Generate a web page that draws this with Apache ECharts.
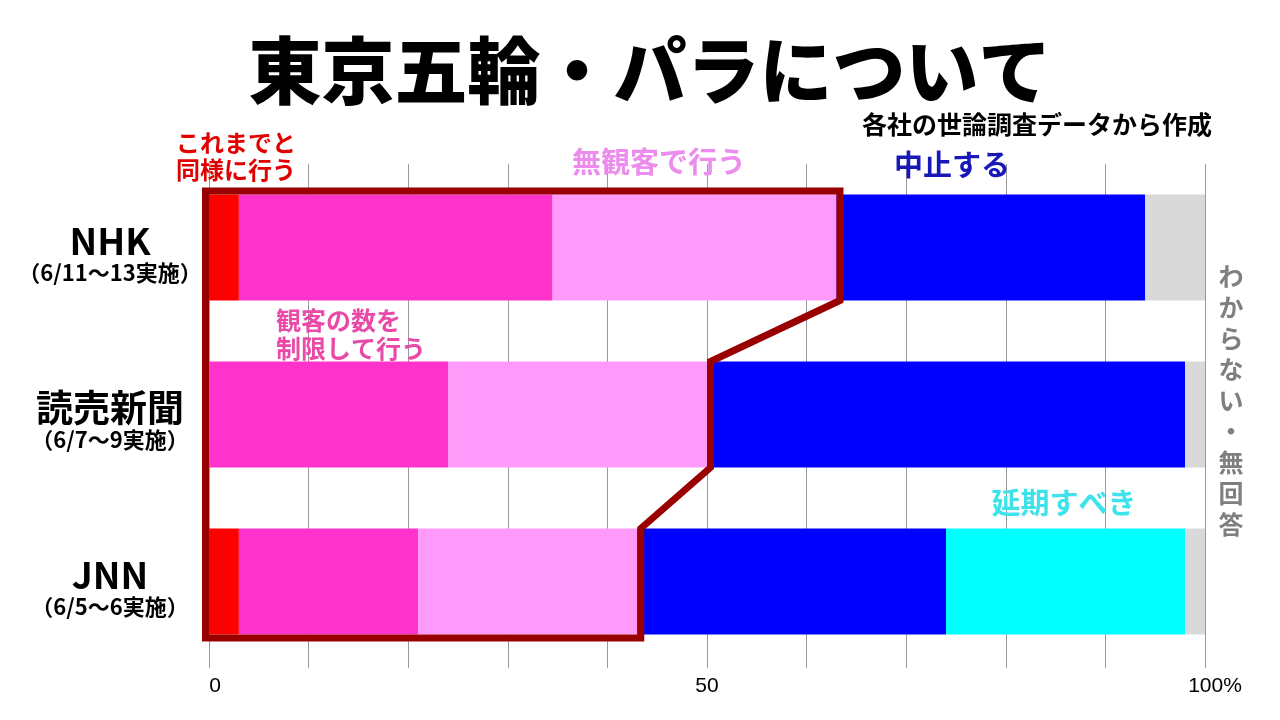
<!DOCTYPE html>
<html>
<head>
<meta charset="utf-8">
<script src="https://cdn.jsdelivr.net/npm/echarts@6/dist/echarts.min.js"></script>
<style>
html,body{margin:0;padding:0;background:#fff;}
#chart{width:1280px;height:720px;}
</style>
</head>
<body>
<div id="chart"></div>
<script>
// ---- data ----
const categories = ['NHK', '読売新聞', 'JNN'];
const subLabels = ['（6/11〜13実施）', '（6/7〜9実施）', '（6/5〜6実施）'];
const sameAsBefore = [3, 0, 3];          // これまでと同様に行う
const limitedSpectators = [31.5, 24, 18]; // 観客の数を制限して行う
const noSpectators = [28.5, 26, 22];      // 無観客で行う
const cancelGames = [31, 48, 31];         // 中止する
const postpone = [0, 0, 24];              // 延期すべき
const unknown = [6, 2, 2];                // わからない・無回答
const xTickValues = [0, 50, 100];
const xTickTexts = ['0', '50', '100%'];

const JP = "'Noto Sans CJK JP', 'Noto Sans', sans-serif";
const NUM = "'Liberation Sans', sans-serif";
const BAR_RATIO = 0.635;

const chart = echarts.init(document.getElementById('chart'));

function bar(name, data, color) {
  return {
    name: name, type: 'bar', stack: 'total', data: data,
    barWidth: (BAR_RATIO * 100) + '%',
    itemStyle: { color: color },
    emphasis: { disabled: true },
    z: 2
  };
}

const option = {
  animation: false,
  backgroundColor: '#ffffff',
  grid: { left: 209, right: 75, top: 164, bottom: 55, containLabel: false },
  xAxis: {
    type: 'value', min: 0, max: 100, interval: 10,
    axisLine: { show: false },
    axisTick: { show: true, length: 3, lineStyle: { color: '#999' } },
    splitLine: { show: true, lineStyle: { color: '#9a9a9a', width: 1 } },
    axisLabel: {
      margin: 11,
      color: '#000',
      fontSize: 21,
      fontFamily: NUM,
      formatter: function (v) {
        const k = xTickValues.indexOf(v);
        if (k < 0) return '';
        return '{t' + k + '|' + xTickTexts[k] + '}';
      },
      rich: {
        t0: { fontSize: 21, padding: [0, 0, 0, 12], fontFamily: NUM, color: '#000' },
        t1: { fontSize: 21, fontFamily: NUM, color: '#000' },
        t2: { fontSize: 21, padding: [0, 0, 0, 20], fontFamily: NUM, color: '#000' }
      }
    }
  },
  yAxis: {
    type: 'category', inverse: true, data: categories,
    axisLine: { show: false }, axisTick: { show: false },
    axisLabel: {
      align: 'center', margin: 99,
      formatter: function (v, i) { return '{a|' + v + '}\n{b|' + subLabels[i] + '}'; },
      rich: {
        a: { fontSize: 37, fontWeight: 'bold', color: '#000', lineHeight: 50, fontFamily: JP },
        b: { fontSize: 22, fontWeight: 'bold', color: '#000', lineHeight: 14, fontFamily: JP }
      }
    }
  },
  series: [
    bar('これまでと同様に行う', sameAsBefore, '#ff0000'),
    bar('観客の数を制限して行う', limitedSpectators, '#ff33cc'),
    bar('無観客で行う', noSpectators, '#ff99fa'),
    bar('中止する', cancelGames, '#0000ff'),
    bar('延期すべき', postpone, '#00ffff'),
    bar('わからない・無回答', unknown, '#d9d9d9'),
    {
      type: 'custom', name: 'outline', coordinateSystem: 'cartesian2d',
      clip: false, z: 10, silent: true,
      data: [[0, 0]], encode: { x: 0, y: 1 },
      renderItem: function (params, api) {
        if (params.dataIndex !== 0) return;
        const n = categories.length;
        const holds = categories.map(function (_, i) {
          return sameAsBefore[i] + limitedSpectators[i] + noSpectators[i];
        });
        const band = api.size([0, 1])[1];
        const half = band * BAR_RATIO / 2;
        const d = 3.5;
        const x0 = api.coord([0, 0])[0] - d;
        const pts = [];
        pts.push([x0, api.coord([0, 0])[1] - half - d]);
        let lastBot = 0;
        for (let i = 0; i < n; i++) {
          const p = api.coord([holds[i], i]);
          const top = p[1] - half, bot = p[1] + half;
          pts.push([p[0] + d, i === 0 ? top - d : top]);
          pts.push([p[0] + d, i === n - 1 ? bot + d : bot]);
          lastBot = bot + d;
        }
        pts.push([x0, lastBot]);
        return {
          type: 'polygon',
          shape: { points: pts },
          style: { fill: 'none', stroke: '#990000', lineWidth: 7, lineJoin: 'miter' }
        };
      }
    }
  ],
  graphic: [
    { type: 'text', x: 650, y: 70, z: 20,
      style: { text: '東京五輪・パラについて', fontSize: 73, fontWeight: 900, fontFamily: JP, fill: '#000', align: 'center', verticalAlign: 'middle' } },
    { type: 'text', x: 1037, y: 124, z: 20,
      style: { text: '各社の世論調査データから作成', fontSize: 25, fontWeight: 'bold', fontFamily: JP, fill: '#000', align: 'center', verticalAlign: 'middle' } },
    { type: 'text', x: 236, y: 156, z: 20,
      style: { text: 'これまでと\n同様に行う', fontSize: 24, lineHeight: 27, fontWeight: 'bold', fontFamily: JP, fill: '#e00000', align: 'center', verticalAlign: 'middle' } },
    { type: 'text', x: 659, y: 162, z: 20,
      style: { text: '無観客で行う', fontSize: 29, fontWeight: 'bold', fontFamily: JP, fill: '#ec8cec', align: 'center', verticalAlign: 'middle' } },
    { type: 'text', x: 952, y: 165, z: 20,
      style: { text: '中止する', fontSize: 29, fontWeight: 'bold', fontFamily: JP, fill: '#1818b8', align: 'center', verticalAlign: 'middle' } },
    { type: 'text', x: 276, y: 334, z: 20,
      style: { text: '観客の数を\n制限して行う', fontSize: 25, lineHeight: 28, fontWeight: 'bold', fontFamily: JP, fill: '#e94aa8', align: 'left', verticalAlign: 'middle' } },
    { type: 'text', x: 1064, y: 503, z: 20,
      style: { text: '延期すべき', fontSize: 29, fontWeight: 'bold', fontFamily: JP, fill: '#3ee2ea', align: 'center', verticalAlign: 'middle' } },
    { type: 'text', x: 1231, y: 400, z: 20,
      style: { text: 'わ\nか\nら\nな\nい\n・\n無\n回\n答', fontSize: 25, lineHeight: 31, fontWeight: 'bold', fontFamily: JP, fill: '#7f7f7f', align: 'center', verticalAlign: 'middle' } }
  ]
};
chart.setOption(option);
</script>
</body>
</html>
